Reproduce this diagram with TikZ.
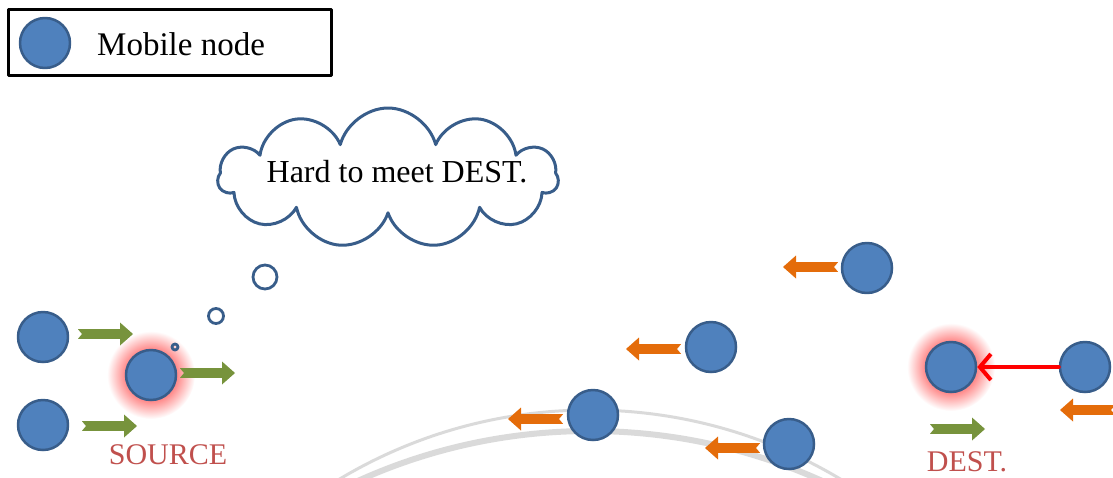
\documentclass[tikz,border=0pt]{standalone}
\usepackage{fontspec}
\setmainfont{Liberation Serif}
\usetikzlibrary{shapes.symbols,arrows.meta}
\definecolor{nodefill}{HTML}{4F81BD}
\definecolor{nodeline}{HTML}{385D8A}
\definecolor{gomove}{HTML}{77933C}
\definecolor{backmove}{HTML}{E46C0A}
\definecolor{tagred}{HTML}{C0504D}
\definecolor{track}{HTML}{DADADA}
\pgfdeclareradialshading{halo}{\pgfpoint{0bp}{0bp}}{color(0bp)=(red!50);color(15bp)=(red!45);color(25bp)=(white);color(50bp)=(white)}
\tikzset{
  mobile/.style={circle,draw=nodeline,fill=nodefill,line width=2.5pt,minimum size=50pt,inner sep=0pt},
  bubble/.style={circle,draw=nodeline,line width=2.8pt,inner sep=0pt},
  tag/.style={text=tagred,font=\fontsize{30}{32}\selectfont,inner sep=0pt},
  pics/blockarrow/.style={code={\fill (0,4.8)--(42,4.8)--(42,11.5)--(55,0)--(42,-11.5)--(42,-4.8)--(0,-4.8)--(4,0)--cycle;}}
}
\begin{document}
\begin{tikzpicture}[x=1pt,y=-1pt,line join=round,line cap=round]
\useasboundingbox (0,0) rectangle (1113,477);
\begin{scope}
\clip (0,0) rectangle (1113,477);
\draw[track,line width=3pt] (590,898) circle[radius=488pt];
\draw[track,line width=6pt] (590,994) circle[radius=563pt];
\end{scope}
\foreach \x/\y in {151/375,951/367}
  \shade[shading=halo] (\x,\y) circle[radius=44pt];
\foreach \ten/\x/\y in {m1/43/337,src/151/375,m2/43/425,m3/867/268,m4/711/347,m5/593/415,m6/789/444,dst/951/367,m7/1085/367}
  \node[mobile] (\ten) at (\x,\y) {};
\foreach \x/\y in {78/334,180/373,82/426,930/429}
  \pic[gomove] at (\x,\y) {blockarrow};
\foreach \x/\y in {838/267,681/349,563/419,760/448,1115/410}
  \pic[backmove,xscale=-1] at (\x,\y) {blockarrow};
\draw[red,line width=4pt,-{Straight Barb[length=11pt,width=26pt]}] (m7) -- (dst);
\node[tag] (srclabel) at (168,455) {SOURCE};
\node[tag] (dstlabel) at (967,462) {DEST.};
\node[cloud,cloud puffs=11,cloud ignores aspect,draw=nodeline,line width=3pt,minimum width=340pt,minimum height=140pt] (think) at (388,178) {};
\node[font=\fontsize{32}{34}\selectfont,inner sep=0pt] (msg) at (397,172) {Hard to meet DEST.};
\foreach \ten/\x/\y/\d in {b1/265/277/24,b2/216/316/15,b3/175/347/6}
  \node[bubble,minimum size=\d pt] (\ten) at (\x,\y) {};
\node[draw,line width=3pt,minimum width=323pt,minimum height=66pt,inner sep=0pt] (legend) at (170,42.5) {};
\node[mobile] (key) at (45,43) {};
\node[anchor=west,inner sep=0pt,font=\fontsize{33}{35}\selectfont] (keytext) at (97,44) {Mobile node};
\end{tikzpicture}
\end{document}
